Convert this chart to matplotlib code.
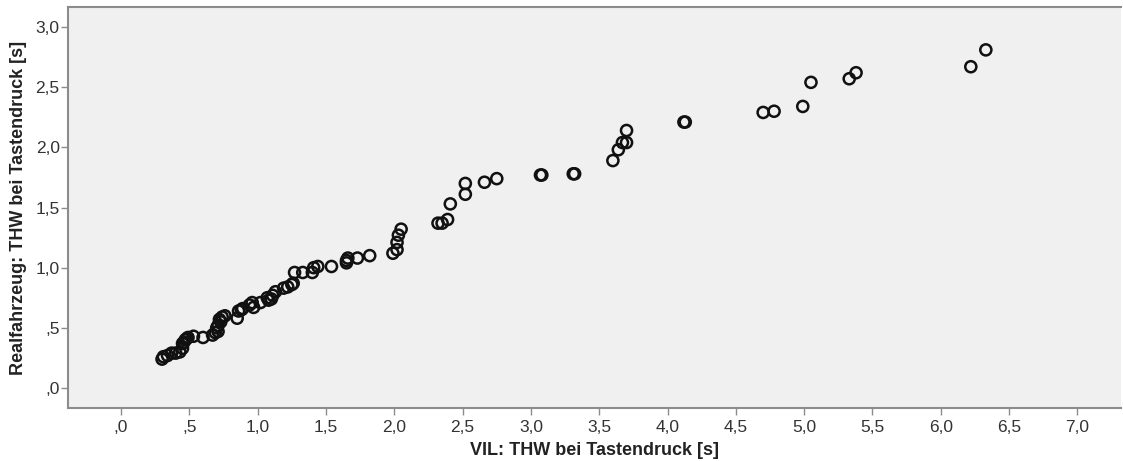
# %%
import matplotlib
matplotlib.use('Agg')
import matplotlib.pyplot as plt

plt.rcParams['font.family'] = ['Liberation Sans', 'DejaVu Sans']

# THW at key press: simulator (VIL) vs. real vehicle
vil = [0.30, 0.31, 0.34, 0.37, 0.40, 0.43, 0.45, 0.45, 0.46, 0.47, 0.48, 0.49,
       0.53, 0.60, 0.67, 0.69, 0.70, 0.71, 0.71, 0.72, 0.73, 0.74, 0.76, 0.85,
       0.86, 0.88, 0.89, 0.94, 0.96, 0.97, 1.02, 1.07, 1.08, 1.10, 1.11, 1.13,
       1.19, 1.22, 1.25, 1.26, 1.27, 1.33, 1.40, 1.41, 1.44, 1.54, 1.65, 1.65,
       1.66, 1.73, 1.82, 1.99, 2.02, 2.02, 2.03, 2.05, 2.32, 2.35, 2.39, 2.41,
       2.52, 2.52, 2.66, 2.75, 3.07, 3.08, 3.31, 3.32, 3.60, 3.64, 3.67, 3.70,
       3.70, 4.12, 4.13, 4.70, 4.78, 4.99, 5.05, 5.33, 5.38, 6.22, 6.33]
real = [0.24, 0.26, 0.27, 0.29, 0.29, 0.30, 0.33, 0.37, 0.38, 0.40, 0.41, 0.42,
        0.43, 0.42, 0.44, 0.46, 0.50, 0.47, 0.52, 0.57, 0.55, 0.59, 0.60, 0.58,
        0.64, 0.65, 0.66, 0.69, 0.71, 0.67, 0.71, 0.75, 0.73, 0.74, 0.77, 0.80,
        0.83, 0.84, 0.86, 0.87, 0.96, 0.96, 0.96, 1.00, 1.01, 1.01, 1.04, 1.06,
        1.08, 1.08, 1.10, 1.12, 1.15, 1.21, 1.27, 1.32, 1.37, 1.37, 1.40, 1.53,
        1.61, 1.70, 1.71, 1.74, 1.77, 1.77, 1.78, 1.78, 1.89, 1.98, 2.04, 2.04,
        2.14, 2.21, 2.21, 2.29, 2.30, 2.34, 2.54, 2.57, 2.62, 2.67, 2.81]

xticks = [0.0, 0.5, 1.0, 1.5, 2.0, 2.5, 3.0, 3.5, 4.0, 4.5, 5.0, 5.5, 6.0, 6.5, 7.0]
xticklabels = [',0', ',5', '1,0', '1,5', '2,0', '2,5', '3,0', '3,5', '4,0',
               '4,5', '5,0', '5,5', '6,0', '6,5', '7,0']
yticks = [0.0, 0.5, 1.0, 1.5, 2.0, 2.5, 3.0]
yticklabels = [',0', ',5', '1,0', '1,5', '2,0', '2,5', '3,0']

# %%
fig = plt.figure(figsize=(11.23, 4.61), dpi=100)
fig.patch.set_facecolor('white')
ax = fig.add_axes([0.0606, 0.115, 0.9377, 0.87])
ax.set_facecolor('#f0f0f0')

ax.scatter(vil, real, s=64, facecolors='none', edgecolors='#111111',
           linewidths=1.8, zorder=3)

ax.set_xlim(-0.388, 7.32)
ax.set_ylim(-0.166, 3.167)
ax.set_xticks(xticks)
ax.set_xticklabels(xticklabels)
ax.set_yticks(yticks)
ax.set_yticklabels(yticklabels)

for side in ['left', 'bottom', 'top']:
    ax.spines[side].set_color('#8c8c8c')
    ax.spines[side].set_linewidth(1.5)
ax.spines['right'].set_visible(False)

ax.tick_params(axis='both', colors='#8c8c8c', length=5, width=1,
               labelcolor='#333333', labelsize=12.5)
ax.tick_params(axis='x', pad=4)
ax.tick_params(axis='y', pad=1)

ax.set_xlabel('VIL: THW bei Tastendruck [s]', fontsize=13, fontweight='bold',
              color='#222222', labelpad=5)
ax.set_ylabel('Realfahrzeug: THW bei Tastendruck [s]', fontsize=13,
              fontweight='bold', color='#222222', labelpad=6)

fig.savefig('out.png', dpi=100)
